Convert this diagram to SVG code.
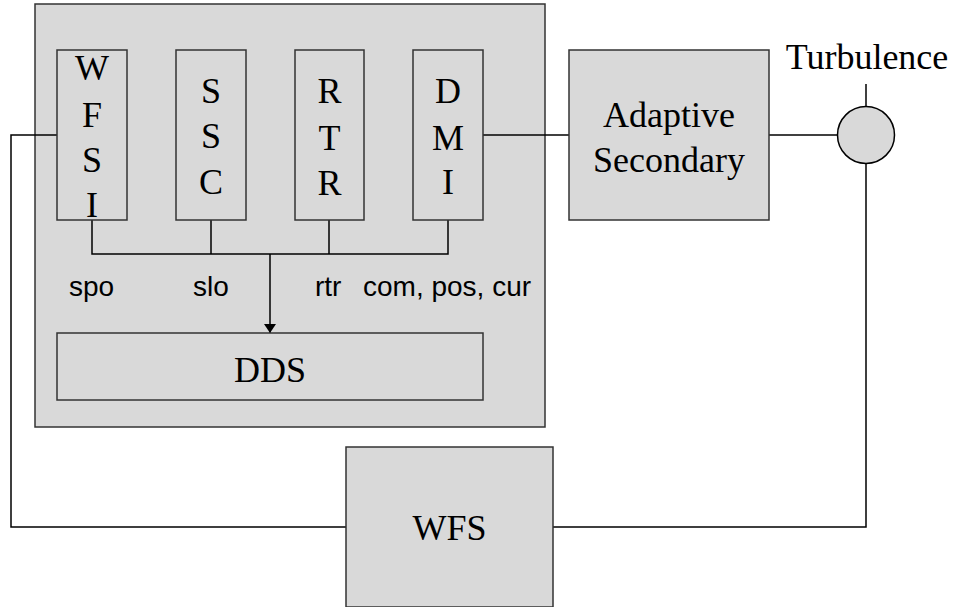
<svg xmlns="http://www.w3.org/2000/svg" width="956" height="607" viewBox="0 0 956 607">
<defs>
<style>
.box{fill:#d9d9d9;stroke:#333;stroke-width:1.5}
.ln{fill:none;stroke:#000;stroke-width:1.5}
.t{font-family:"Liberation Serif","Times New Roman",serif;font-size:36px;fill:#000;text-anchor:middle}
.s{font-family:"Liberation Sans",Arial,sans-serif;font-size:28px;fill:#000}
</style>
<marker id="arr" viewBox="0 0 10 10" refX="10" refY="5" markerWidth="9" markerHeight="12" markerUnits="userSpaceOnUse" orient="auto-start-reverse" preserveAspectRatio="none">
<path d="M0,0 L10,5 L0,10 z" fill="#000"/>
</marker>
</defs>
<rect width="956" height="607" fill="#fff"/>
<g id="controller">
<rect class="box" x="35" y="4" width="510" height="423"/>
</g>
<g id="connectors">
<path class="ln" d="M92,220 V254 H448 V220 M211,220 V254 M329,220 V254"/>
<path class="ln" d="M270,254 V333" marker-end="url(#arr)"/>
<path class="ln" d="M483,135 H569"/>
<path class="ln" d="M769,135 H837.5"/>
<path class="ln" d="M866,84 V106.5"/>
<path class="ln" d="M866,163.5 V527 H553"/>
<path class="ln" d="M346,527 H11 V135 H57"/>
</g>
<g id="wfsi">
<rect class="box" x="57" y="50" width="70" height="170"/>
<text class="t" x="92" y="80">W</text>
<text class="t" x="92" y="127">F</text>
<text class="t" x="92" y="172">S</text>
<text class="t" x="92" y="217">I</text>
</g>
<g id="ssc">
<rect class="box" x="176" y="50" width="70" height="170"/>
<text class="t" x="211" y="103">S</text>
<text class="t" x="211" y="148">S</text>
<text class="t" x="211" y="194">C</text>
</g>
<g id="rtr">
<rect class="box" x="295" y="50" width="69" height="170"/>
<text class="t" x="329.5" y="103">R</text>
<text class="t" x="329.5" y="150">T</text>
<text class="t" x="329.5" y="195">R</text>
</g>
<g id="dmi">
<rect class="box" x="413" y="50" width="70" height="170"/>
<text class="t" x="448" y="103">D</text>
<text class="t" x="448" y="150">M</text>
<text class="t" x="448" y="194">I</text>
</g>
<g id="labels">
<text class="s" x="69" y="296">spo</text>
<text class="s" x="193" y="296">slo</text>
<text class="s" x="315" y="296">rtr</text>
<text class="s" x="363" y="296">com, pos, cur</text>
</g>
<g id="dds">
<rect class="box" x="57" y="333" width="426" height="67"/>
<text class="t" x="270" y="382">DDS</text>
</g>
<g id="adaptive-secondary">
<rect class="box" x="569" y="50" width="200" height="170"/>
<text class="t" x="669" y="127">Adaptive</text>
<text class="t" x="669" y="172">Secondary</text>
</g>
<g id="turbulence">
<circle class="box" cx="866" cy="135" r="28.5" style="stroke:#000"/>
<text class="t" x="867" y="69">Turbulence</text>
</g>
<g id="wfs">
<rect class="box" x="346" y="447" width="207" height="160"/>
<text class="t" x="449.5" y="540">WFS</text>
</g>
</svg>
